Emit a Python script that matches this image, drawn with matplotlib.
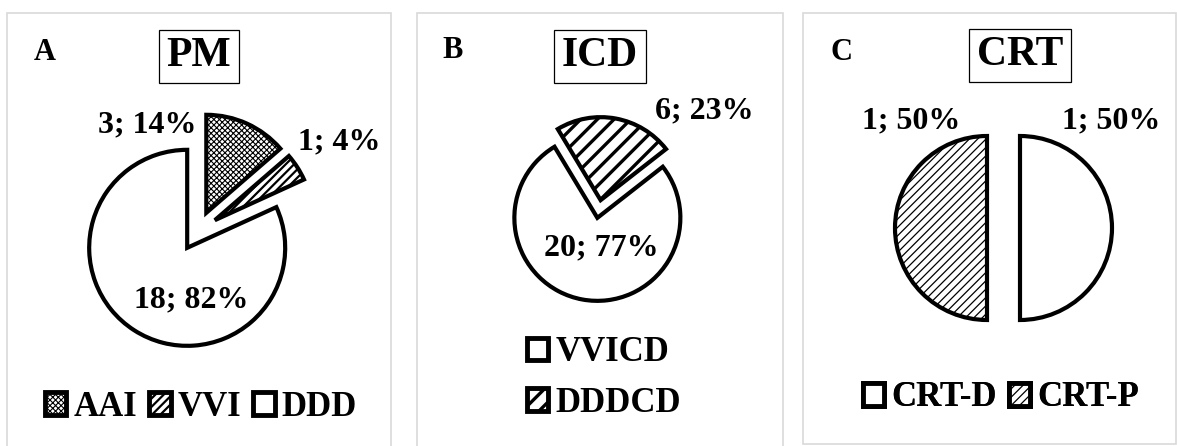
import matplotlib
matplotlib.use('Agg')
import matplotlib.pyplot as plt
from matplotlib.patches import Rectangle

# Canvas size in pixels (dpi 100)
W, H = 1177, 446

# Panel A: pacemakers
pm_names = ['AAI', 'VVI', 'DDD']
pm_counts = [3, 1, 18]
pm_pcts = [14, 4, 82]

# Panel B: ICD
icd_names = ['VVICD', 'DDDCD']
icd_counts = [20, 6]
icd_pcts = [77, 23]

# Panel C: CRT
crt_names = ['CRT-D', 'CRT-P']
crt_counts = [1, 1]
crt_pcts = [50, 50]

plt.rcParams['font.family'] = ['Liberation Serif', 'DejaVu Serif']
plt.rcParams['font.weight'] = 'bold'


def px(x, y):
    """Pixel position (origin top-left) -> data coords (origin bottom-left)."""
    return x, H - y


def set_hatch_lw(patches, widths):
    for p, lw in zip(patches, widths):
        if hasattr(p, 'set_hatch_linewidth'):
            p.set_hatch_linewidth(lw)


def draw_panel(ax, frame, letter, letter_xy, title, title_xy, names, counts, pcts,
               hatches, hatch_lw, center, radius, explode, startangle,
               label_xy, legend_xy, ncol):
    # light grey frame around the panel
    x0, y0, x1, y1 = frame
    ax.add_patch(Rectangle(px(x0, y1), x1 - x0, y1 - y0, fill=False,
                           edgecolor='#d9d9d9', linewidth=1.2, zorder=0))

    wedges, _ = ax.pie(counts, center=px(*center), radius=radius,
                       explode=[explode] * len(counts), startangle=startangle,
                       counterclock=False,
                       wedgeprops=dict(facecolor='white', edgecolor='black',
                                       linewidth=3, joinstyle='miter'))
    for w, h in zip(wedges, hatches):
        w.set_hatch(h)
    set_hatch_lw(wedges, hatch_lw)

    for n, p, xy in zip(counts, pcts, label_xy):
        ax.text(*px(*xy), f'{n}; {p}%', fontsize=23, fontweight='bold',
                ha='center', va='center')

    ax.text(*px(*letter_xy), letter, fontsize=22, fontweight='bold',
            ha='center', va='center')
    ax.text(*px(*title_xy), title, fontsize=30, fontweight='bold',
            ha='center', va='center',
            bbox=dict(boxstyle='square,pad=0.18', facecolor='white',
                      edgecolor='black', linewidth=0.9))

    leg = ax.legend(wedges, names, loc='center', bbox_to_anchor=px(*legend_xy),
                    bbox_transform=ax.transData, ncol=ncol, frameon=False,
                    prop={'size': 25, 'weight': 'bold'},
                    handlelength=0.62, handleheight=0.62, handletextpad=0.2,
                    columnspacing=0.35, labelspacing=0.5, borderpad=0,
                    borderaxespad=0)
    for h in leg.legend_handles:
        h.set_linewidth(3.5)
    set_hatch_lw(leg.legend_handles, hatch_lw)
    ax.add_artist(leg)


fig = plt.figure(figsize=(W / 100, H / 100), dpi=100)
ax = fig.add_axes([0, 0, 1, 1])

draw_panel(ax, (7, 13, 391, 470), 'A', (45, 52), 'PM', (199, 56),
           pm_names, pm_counts, pm_pcts,
           hatches=['xxxxxx', '////', ''], hatch_lw=[0.8, 1.6, 1.0],
           center=(198, 231), radius=98, explode=20, startangle=90,
           label_xy=[(147, 125), (339, 142), (191, 300)],
           legend_xy=(201, 407), ncol=3)

draw_panel(ax, (417, 13, 783, 470), 'B', (453, 50), 'ICD', (600, 56),
           icd_names, icd_counts, icd_pcts,
           hatches=['', '//'], hatch_lw=[1.0, 2.4],
           center=(599, 209), radius=83, explode=9, startangle=38,
           label_xy=[(601, 248), (704, 111)],
           legend_xy=(604, 378), ncol=1)

draw_panel(ax, (803, 13, 1176, 444), 'C', (842, 52), 'CRT', (1020, 55),
           crt_names, crt_counts, crt_pcts,
           hatches=['', '////'], hatch_lw=[1.0, 0.9],
           center=(1003.5, 228), radius=92, explode=16.5, startangle=90,
           label_xy=[(1111, 121), (911, 121)],
           legend_xy=(1001, 398), ncol=2)

ax.set_xlim(0, W)
ax.set_ylim(0, H)
ax.set_aspect('auto')
ax.axis('off')

plt.savefig('out.png', dpi=100)
plt.close()
